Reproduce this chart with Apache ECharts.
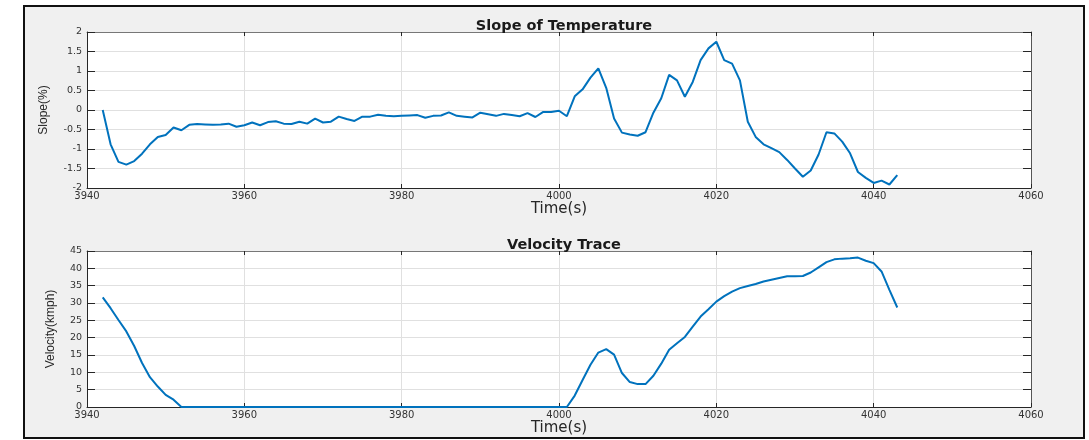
<!DOCTYPE html>
<html>
<head>
<meta charset="utf-8">
<script src="https://cdn.jsdelivr.net/npm/echarts@6/dist/echarts.min.js"></script>
<style>
html,body{margin:0;padding:0;background:#fff;}
#chart{width:1089px;height:440px;}
</style>
</head>
<body>
<div id="chart"></div>
<script>
// ---- data ----
const timeSec = [
  3942,3943,3944,3945,3946,3947,3948,3949,3950,3951,
  3952,3953,3954,3955,3956,3957,3958,3959,3960,3961,
  3962,3963,3964,3965,3966,3967,3968,3969,3970,3971,
  3972,3973,3974,3975,3976,3977,3978,3979,3980,3981,
  3982,3983,3984,3985,3986,3987,3988,3989,3990,3991,
  3992,3993,3994,3995,3996,3997,3998,3999,4000,4001,
  4002,4003,4004,4005,4006,4007,4008,4009,4010,4011,
  4012,4013,4014,4015,4016,4017,4018,4019,4020,4021,
  4022,4023,4024,4025,4026,4027,4028,4029,4030,4031,
  4032,4033,4034,4035,4036,4037,4038,4039,4040,4041,
  4042,4043
];
const slopePct = [
  0,-0.88,-1.33,-1.40,-1.31,-1.12,-0.88,-0.69,-0.64,-0.45,
  -0.52,-0.38,-0.36,-0.37,-0.38,-0.37,-0.35,-0.43,-0.39,-0.32,
  -0.39,-0.31,-0.29,-0.35,-0.36,-0.30,-0.35,-0.22,-0.32,-0.30,
  -0.17,-0.23,-0.28,-0.17,-0.17,-0.12,-0.15,-0.16,-0.15,-0.14,
  -0.13,-0.20,-0.15,-0.14,-0.06,-0.15,-0.17,-0.19,-0.07,-0.11,
  -0.15,-0.10,-0.13,-0.16,-0.08,-0.18,-0.05,-0.05,-0.02,-0.16,
  0.35,0.53,0.83,1.07,0.57,-0.22,-0.58,-0.63,-0.66,-0.57,
  -0.07,0.30,0.90,0.76,0.34,0.72,1.28,1.58,1.75,1.28,
  1.19,0.76,-0.30,-0.69,-0.88,-0.98,-1.08,-1.28,-1.50,-1.71,
  -1.55,-1.14,-0.57,-0.60,-0.81,-1.11,-1.59,-1.74,-1.87,-1.81,
  -1.91,-1.67
];
const velocityKmph = [
  31.6,28.5,25.1,21.8,17.6,12.7,8.6,5.9,3.5,2.1,
  0,0,0,0,0,0,0,0,0,0,
  0,0,0,0,0,0,0,0,0,0,
  0,0,0,0,0,0,0,0,0,0,
  0,0,0,0,0,0,0,0,0,0,
  0,0,0,0,0,0,0,0,0,0,
  3.3,7.8,12.2,15.7,16.7,15.1,9.8,7.2,6.6,6.6,
  9.0,12.5,16.5,18.4,20.2,23.2,26.1,28.2,30.4,32.0,
  33.3,34.3,34.9,35.5,36.2,36.7,37.2,37.7,37.7,37.8,
  38.8,40.3,41.8,42.6,42.8,42.9,43.1,42.2,41.5,39.1,
  33.8,28.7
];
const titles = ['Slope of Temperature', 'Velocity Trace'];
const yNames = ['Slope(%)', 'Velocity(kmph)'];
const xName = 'Time(s)';
const xRange = [3940, 4060, 20];
const slopeRange = [-2, 2, 0.5];
const velRange = [0, 45, 5];

// ---- chart ----
const axisColor = '#262626';
const gridColor = '#e0e0e0';
const lineColor = '#0072BD';
const labelFont = 'DejaVu Sans';

function pairs(xs, ys) { return xs.map((x, i) => [x, ys[i]]); }

function xAxes(gi) {
  return [
    {
      gridIndex: gi, type: 'value', min: xRange[0], max: xRange[1], interval: xRange[2],
      position: 'bottom',
      axisLine: { show: true, onZero: false, lineStyle: { color: axisColor, width: 1 } },
      axisTick: { show: true, inside: true, length: 4, lineStyle: { color: axisColor } },
      axisLabel: { margin: 3, color: '#333', fontSize: 10, fontFamily: labelFont,
                   formatter: v => String(v) },
      splitLine: { show: true, lineStyle: { color: gridColor, width: 1 } },
      name: xName, nameLocation: 'middle', nameGap: 12,
      nameTextStyle: { fontFamily: labelFont, fontSize: 15, color: '#262626' }
    },
    {
      gridIndex: gi, type: 'value', min: xRange[0], max: xRange[1], interval: xRange[2],
      position: 'top',
      axisLine: { show: true, onZero: false, lineStyle: { color: '#777', width: 1 } },
      axisTick: { show: true, inside: true, length: 4, lineStyle: { color: axisColor } },
      axisLabel: { show: false },
      splitLine: { show: false }
    }
  ];
}

function yAxes(gi, rng, name, gap) {
  return [
    {
      gridIndex: gi, type: 'value', min: rng[0], max: rng[1], interval: rng[2],
      position: 'left',
      axisLine: { show: true, onZero: false, lineStyle: { color: axisColor, width: 1 } },
      axisTick: { show: true, inside: true, length: 8, lineStyle: { color: axisColor } },
      axisLabel: { margin: 5, color: '#333', fontSize: 9.5, fontFamily: labelFont },
      splitLine: { show: true, lineStyle: { color: gridColor, width: 1 } },
      name: name, nameLocation: 'middle', nameGap: gap, nameRotate: 90,
      nameTextStyle: { fontFamily: 'Liberation Sans Narrow, Liberation Sans', fontSize: 12, color: '#262626' }
    },
    {
      gridIndex: gi, type: 'value', min: rng[0], max: rng[1], interval: rng[2],
      position: 'right',
      axisLine: { show: true, onZero: false, lineStyle: { color: '#555', width: 1 } },
      axisTick: { show: true, inside: true, length: 8, lineStyle: { color: axisColor } },
      axisLabel: { show: false },
      splitLine: { show: false }
    }
  ];
}

const chart = echarts.init(document.getElementById('chart'), null, { renderer: 'canvas' });
chart.setOption({
  animation: false,
  backgroundColor: '#ffffff',
  graphic: {
    elements: [{
      type: 'rect', z: -100, silent: true,
      shape: { x: 24, y: 6, width: 1060, height: 432 },
      style: { fill: '#f0f0f0', stroke: '#111', lineWidth: 2 }
    }]
  },
  title: [
    { text: titles[0], left: 559, top: 14, textAlign: 'center',
      textStyle: { fontFamily: 'DejaVu Sans', fontWeight: 'bold', fontSize: 14.5, color: '#1a1a1a' } },
    { text: titles[1], left: 559, top: 233, textAlign: 'center',
      textStyle: { fontFamily: 'DejaVu Sans', fontWeight: 'bold', fontSize: 14.5, color: '#1a1a1a' } }
  ],
  grid: [
    { left: 87, top: 32, width: 944, height: 156, show: true, backgroundColor: '#ffffff', borderWidth: 0 },
    { left: 87, top: 251, width: 944, height: 156, show: true, backgroundColor: '#ffffff', borderWidth: 0 }
  ],
  xAxis: [].concat(xAxes(0), xAxes(1)),
  yAxis: [].concat(yAxes(0, slopeRange, yNames[0], 37), yAxes(1, velRange, yNames[1], 30)),
  series: [
    { type: 'line', xAxisIndex: 0, yAxisIndex: 0, data: pairs(timeSec, slopePct),
      showSymbol: false, lineStyle: { color: lineColor, width: 2 }, itemStyle: { color: lineColor } },
    { type: 'line', xAxisIndex: 2, yAxisIndex: 2, data: pairs(timeSec, velocityKmph),
      showSymbol: false, lineStyle: { color: lineColor, width: 2 }, itemStyle: { color: lineColor } }
  ]
});
</script>
</body>
</html>
